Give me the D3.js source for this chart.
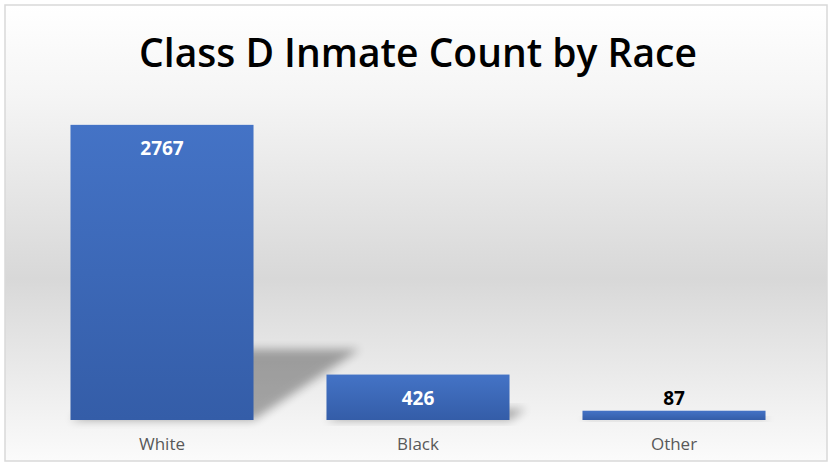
<!DOCTYPE html>
<meta charset="utf-8">
<style>
body { margin: 0; background: #fff; }
svg { display: block; }
.cat { font: 17px "Open Sans", sans-serif; fill: #595959; }
.val { font: bold 19px "Open Sans", sans-serif; }
.title { font: 600 39px "Open Sans", sans-serif; fill: #000; }
</style>
<body>
<svg width="834" height="466"></svg>
<script src="https://d3js.org/d3.v7.min.js"></script>
<script>
// data
var races = ["White", "Black", "Other"];
var counts = [2767, 426, 87];
var titleText = "Class D Inmate Count by Race";

var svg = d3.select("svg"),
    margin = {top: 100, right: 32, bottom: 46, left: 34},
    width = +svg.attr("width") - margin.left - margin.right,
    height = +svg.attr("height") - margin.top - margin.bottom;

var defs = svg.append("defs");

var bg = defs.append("linearGradient").attr("id", "bg")
    .attr("x1", 0).attr("y1", 0).attr("x2", 0).attr("y2", 1);
bg.append("stop").attr("offset", "0%").attr("stop-color", "#ffffff");
bg.append("stop").attr("offset", "20%").attr("stop-color", "#f5f5f5");
bg.append("stop").attr("offset", "60%").attr("stop-color", "#d8d8d8");
bg.append("stop").attr("offset", "85%").attr("stop-color", "#eeeeee");
bg.append("stop").attr("offset", "100%").attr("stop-color", "#fbfbfb");

var barGrad = defs.append("linearGradient").attr("id", "bar")
    .attr("x1", 0).attr("y1", 0).attr("x2", 0).attr("y2", 1);
barGrad.append("stop").attr("offset", "0%").attr("stop-color", "#4473c6");
barGrad.append("stop").attr("offset", "100%").attr("stop-color", "#345da8");

defs.append("filter").attr("id", "blur")
    .attr("x", "-50%").attr("y", "-50%").attr("width", "200%").attr("height", "200%")
  .append("feGaussianBlur").attr("stdDeviation", 5);

// chart area + border
svg.append("rect")
    .attr("x", 5).attr("y", 5).attr("width", 822).attr("height", 456)
    .attr("fill", "url(#bg)")
    .attr("stroke", "#d9d9d9").attr("stroke-width", 1.5);

svg.append("text")
    .attr("class", "title")
    .attr("x", 418).attr("y", 67)
    .attr("text-anchor", "middle")
    .text(titleText);

var g = svg.append("g").attr("transform", "translate(" + margin.left + "," + margin.top + ")");

var x = d3.scaleBand().domain(races).range([0, width]).paddingInner(0.285).paddingOuter(0.1425);
var y = d3.scaleLinear().domain([0, 3000]).range([height, 0]);

var data = races.map(function(r, i) { return {race: r, count: counts[i]}; });

// perspective shadows
g.selectAll(".shadow")
    .data(data)
  .enter().append("path")
    .attr("class", "shadow")
    .attr("fill", "#000")
    .attr("opacity", 0.32)
    .attr("filter", "url(#blur)")
    .attr("d", function(d) {
        var x0 = x(d.race), x1 = x0 + x.bandwidth();
        var h = (height - y(d.count)) * 0.24;
        var off = h * 1.5;
        return "M" + x0 + "," + height + "L" + x1 + "," + height +
            "L" + (x1 + off) + "," + (height - h) + "L" + (x0 + off) + "," + (height - h) + "Z";
    });

g.selectAll(".bar")
    .data(data)
  .enter().append("rect")
    .attr("class", "bar")
    .attr("x", function(d) { return x(d.race); })
    .attr("y", function(d) { return y(d.count); })
    .attr("width", x.bandwidth())
    .attr("height", function(d) { return height - y(d.count); })
    .attr("fill", "url(#bar)");

g.selectAll(".val")
    .data(data)
  .enter().append("text")
    .attr("class", "val")
    .attr("text-anchor", "middle")
    .attr("x", function(d) { return x(d.race) + x.bandwidth() / 2; })
    .attr("y", function(d) {
        var inside = height - y(d.count) > 35;
        return inside ? y(d.count) + 30 : y(d.count) - 6;
    })
    .attr("fill", function(d) { return height - y(d.count) > 35 ? "#fff" : "#000"; })
    .text(function(d) { return d.count; });

g.append("g")
    .attr("transform", "translate(0," + height + ")")
    .call(d3.axisBottom(x).tickSize(0).tickPadding(18))
    .call(function(a) { a.select(".domain").remove(); })
    .selectAll("text")
    .attr("class", "cat")
    .attr("dy", "0.71em");
</script>
